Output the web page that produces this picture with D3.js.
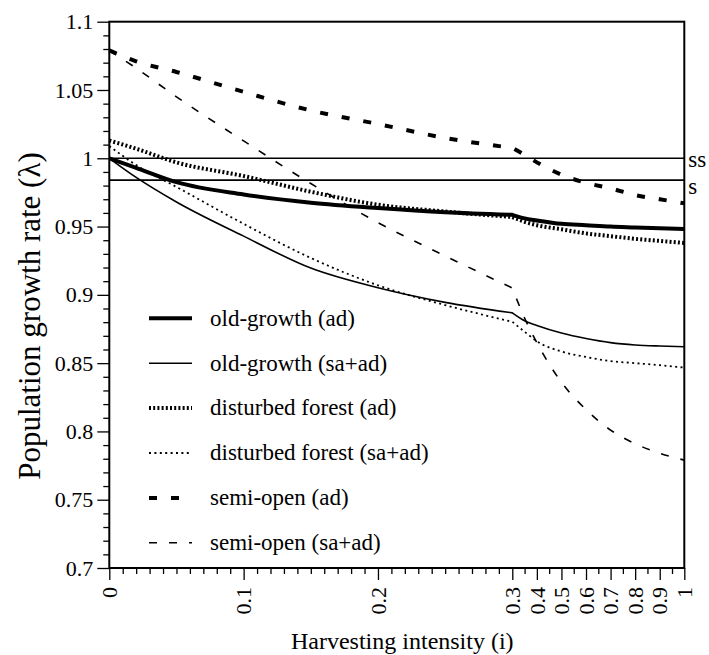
<!DOCTYPE html>
<html>
<head>
<meta charset="utf-8">
<script src="https://cdn.jsdelivr.net/npm/d3@7/dist/d3.min.js"></script>
<style>
  body { margin: 0; background: #fff; }
</style>
</head>
<body>
<svg id="chart" width="709" height="655"></svg>
<script>
// harvesting intensity (x) values shared by every series
const intensity = [0, 0.02, 0.05, 0.1, 0.15, 0.2, 0.25, 0.3, 0.35, 0.4, 0.5, 0.6, 0.7, 0.8, 0.9, 1];

const oldGrowthAd      = [1.000, 0.993, 0.9825, 0.9735, 0.9675, 0.9636, 0.9605, 0.9586, 0.956, 0.9545, 0.952, 0.951, 0.950, 0.9494, 0.9488, 0.9483];
const oldGrowthSaAd    = [1.000, 0.986, 0.968, 0.943, 0.9196, 0.9052, 0.8945, 0.8868, 0.881, 0.8775, 0.872, 0.868, 0.865, 0.8633, 0.8625, 0.862];
const disturbedAd      = [1.013, 1.007, 0.997, 0.987, 0.9755, 0.966, 0.961, 0.957, 0.9535, 0.951, 0.948, 0.945, 0.943, 0.941, 0.9395, 0.938];
const disturbedSaAd    = [1.009, 0.995, 0.979, 0.952, 0.927, 0.907, 0.8925, 0.8803, 0.873, 0.866, 0.8585, 0.8545, 0.8515, 0.850, 0.8485, 0.8467];
const semiOpenAd       = [1.079, 1.071, 1.0632, 1.0486, 1.035, 1.0251, 1.0149, 1.0076, 1.0025, 0.997, 0.988, 0.982, 0.978, 0.973, 0.970, 0.967];
const semiOpenSaAd     = [1.079, 1.066, 1.045, 1.0127, 0.9815, 0.9529, 0.9285, 0.905, 0.883, 0.865, 0.836, 0.816, 0.801, 0.791, 0.784, 0.779];

const seriesNames = ["old-growth (ad)", "old-growth (sa+ad)", "disturbed forest (ad)",
                     "disturbed forest (sa+ad)", "semi-open (ad)", "semi-open (sa+ad)"];

const xTickValues = [0, 0.1, 0.2, 0.3, 0.4, 0.5, 0.6, 0.7, 0.8, 0.9, 1];
const yTickValues = [0.7, 0.75, 0.8, 0.85, 0.9, 0.95, 1, 1.05, 1.1];

const refValues = [1, 0.984];
const refLabels = ["ss", "s"];

const FONT = "'Liberation Serif', 'DejaVu Serif', serif";

// line looks, in the same order as seriesNames
const STYLES = [
  { w: 4,   dash: null },
  { w: 1.6, dash: null },
  { w: 4,   dash: "2,2.2" },
  { w: 1.8, dash: "2,3.4" },
  { w: 4,   dash: "8,14" },
  { w: 1.6, dash: "8,12" }
];

const allSeries = [oldGrowthAd, oldGrowthSaAd, disturbedAd, disturbedSaAd, semiOpenAd, semiOpenSaAd];

const mg = { top: 21.7, left: 109.3 };
const iw = 575, ih = 546.3;
const breakX = 403; // pixel where 0.3 sits (axis is compressed past it)

const svg = d3.select("#chart");
const g = svg.append("g").attr("transform", `translate(${mg.left},${mg.top})`);

const x = d3.scaleLinear().domain([0, 0.3, 1]).range([0, breakX, iw]);
const y = d3.scaleLinear().domain([0.7, 1.1]).range([ih, 0]);

// minor ticks
const yMinor = d3.range(70, 111).map(d => d / 100).filter(v => !yTickValues.some(t => Math.abs(t - v) < 1e-6));
const xMinor = d3.range(1, 30).filter(d => d % 10 !== 0).map(d => d / 100)
  .concat(d3.range(35, 100, 10).map(d => d / 100));

g.append("g").call(d3.axisLeft(y).tickValues(yMinor).tickSize(6).tickFormat(""))
  .call(a => a.select(".domain").remove());
g.append("g").attr("transform", `translate(0,${ih})`)
  .call(d3.axisBottom(x).tickValues(xMinor).tickSize(6).tickFormat(""))
  .call(a => a.select(".domain").remove());

const yAxis = g.append("g").call(d3.axisLeft(y).tickValues(yTickValues).tickSize(12).tickSizeOuter(0).tickPadding(4).tickFormat(d => d));
yAxis.selectAll("text").style("font-size", "22px");

const xAxis = g.append("g").attr("transform", `translate(0,${ih})`)
  .call(d3.axisBottom(x).tickValues(xTickValues).tickSize(12).tickSizeOuter(0).tickFormat(d => d));
xAxis.selectAll("text")
  .style("font-size", "22px")
  .attr("transform", "rotate(-90)")
  .attr("text-anchor", "end")
  .attr("x", -19).attr("y", 0).attr("dy", "0.33em");

g.selectAll(".tick line").attr("stroke", "#000").attr("stroke-width", 1.3);
g.selectAll(".domain").remove();

// frame
g.append("rect").attr("width", iw).attr("height", ih)
  .attr("fill", "none").attr("stroke", "#000").attr("stroke-width", 2);

// reference lines
refValues.forEach((v, i) => {
  g.append("line").attr("x1", 0).attr("x2", iw).attr("y1", y(v)).attr("y2", y(v))
    .attr("stroke", "#000").attr("stroke-width", 1.6);
  g.append("text").text(refLabels[i])
    .attr("x", iw + 4).attr("y", y(v) + (i === 0 ? 9 : 14))
    .style("font-size", "23px");
});

// each series is smoothed on both sides of the 0.3 break, with a kink at 0.3
const line = d3.line().x(d => x(d[0])).y(d => y(d[1])).curve(d3.curveMonotoneX);
const pathFor = vals => {
  const pts = intensity.map((t, i) => [t, vals[i]]);
  const cut = intensity.indexOf(0.3);
  return line(pts.slice(0, cut + 1)) + line(pts.slice(cut)).replace(/^M[^LC]*/, "");
};

allSeries.forEach((vals, k) => {
  g.append("path").datum(vals)
    .attr("fill", "none").attr("stroke", "#000")
    .attr("stroke-width", STYLES[k].w)
    .attr("stroke-dasharray", STYLES[k].dash)
    .attr("d", pathFor);
});

// legend
const legX = 149 - mg.left, legTop = 318.3 - mg.top, legStep = 44.9;
seriesNames.forEach((name, k) => {
  const ly = legTop + k * legStep;
  g.append("line").attr("x1", legX).attr("x2", legX + 43).attr("y1", ly).attr("y2", ly)
    .attr("stroke", "#000").attr("stroke-width", STYLES[k].w)
    .attr("stroke-dasharray", STYLES[k].dash);
  g.append("text").text(name)
    .attr("x", legX + 61).attr("y", ly).attr("dy", "0.32em")
    .style("font-size", "23px");
});

// axis titles
svg.append("text").text("Harvesting intensity (i)")
  .attr("x", mg.left + 293).attr("y", 649)
  .attr("text-anchor", "middle").style("font-size", "24px");

svg.append("text").text("Population growth rate (λ)")
  .attr("transform", "translate(29,316) rotate(-90)")
  .attr("text-anchor", "middle").attr("dy", "0.35em").style("font-size", "31px");

svg.selectAll("text").attr("font-family", null).style("font-family", FONT).style("fill", "#000");
</script>
</body>
</html>
